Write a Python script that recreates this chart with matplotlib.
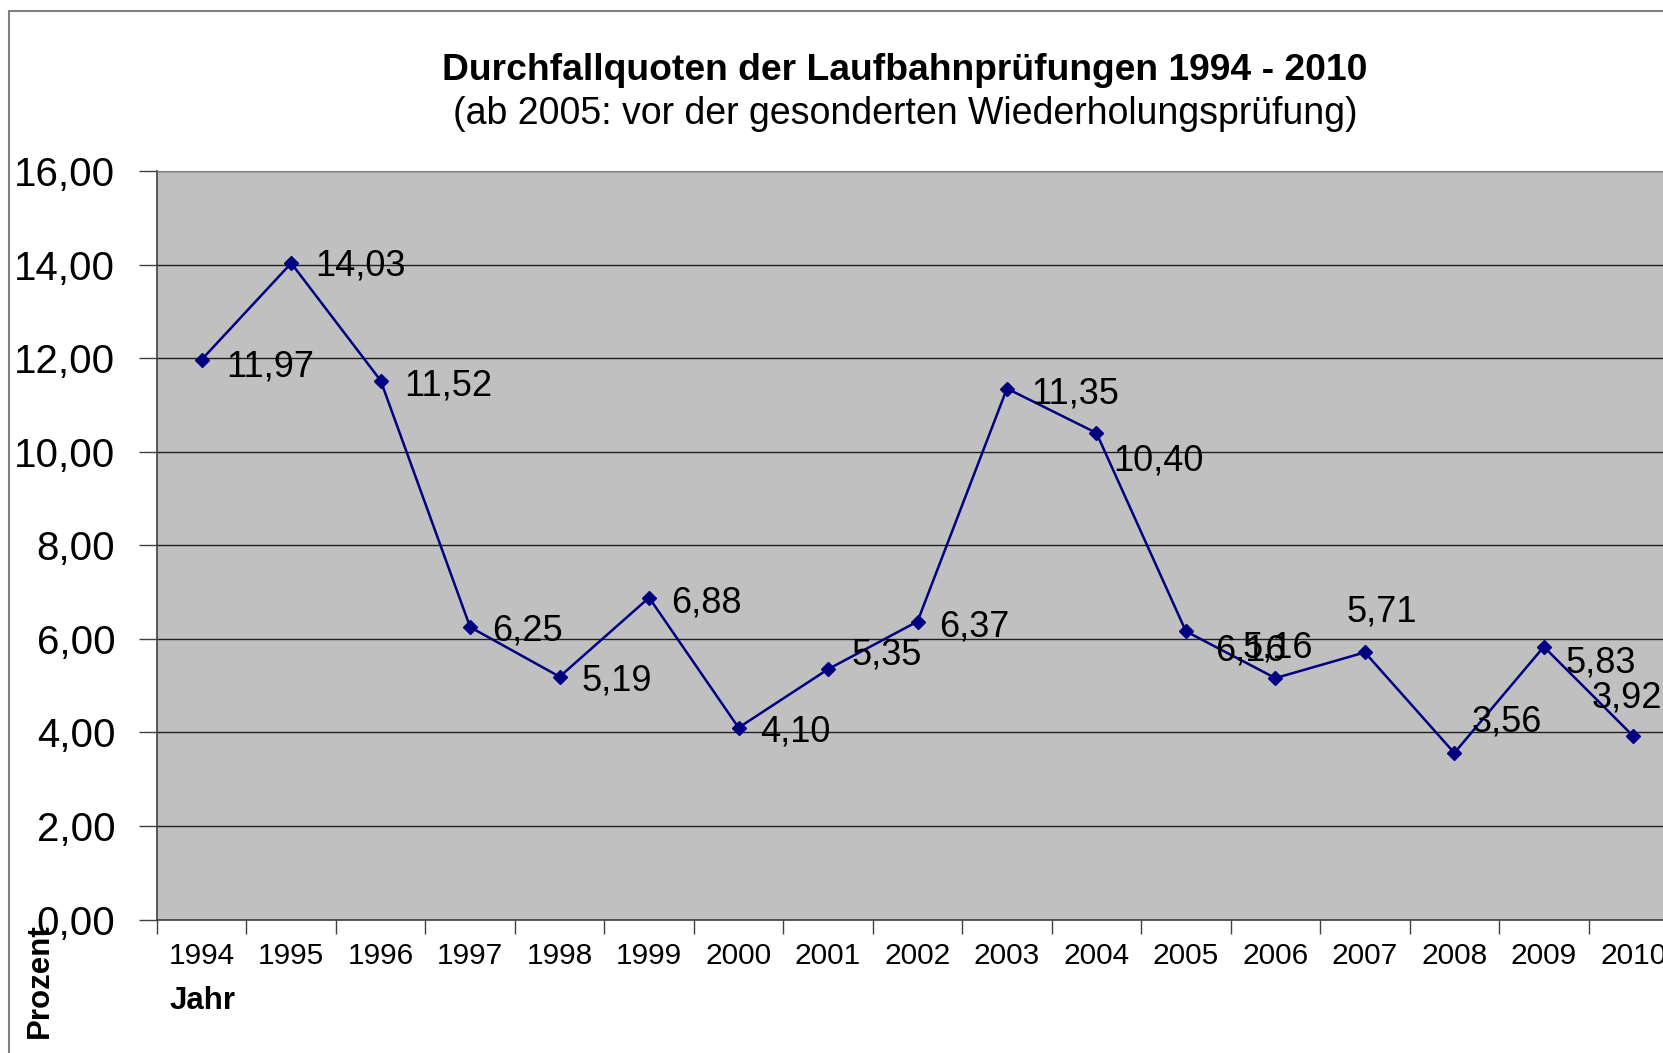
import matplotlib.pyplot as plt
from matplotlib.patches import Rectangle

plt.rcParams['font.family'] = ['Liberation Sans', 'DejaVu Sans']

years = ['1994', '1995', '1996', '1997', '1998', '1999', '2000', '2001', '2002',
         '2003', '2004', '2005', '2006', '2007', '2008', '2009', '2010']
quoten = [11.97, 14.03, 11.52, 6.25, 5.19, 6.88, 4.10, 5.35, 6.37,
          11.35, 10.40, 6.16, 5.16, 5.71, 3.56, 5.83, 3.92]

# label offsets in pixels (hand placed like in the original sheet)
label_dx = [25, 24, 24, 22, 22, 22, 22, 23, 22, 24, 17, 29, -33, -18, 17, 22, -42]
label_dy = [-7, -3, -5, -4, -4, -5, -4, 14, -5, -5, -28, -20, 30, 40, 31, -16, 38]

W, H = 1663, 1053
fig = plt.figure(figsize=(W / 100, H / 100), dpi=100)

# outer chart frame
fig.patches.append(Rectangle((8.5 / W, -0.1), 1.2, (H - 10.5) / H + 0.1,
                             transform=fig.transFigure, fill=False,
                             edgecolor='#808080', linewidth=1.5))

ax = fig.add_axes([157 / W, 1 - 919.5 / H, (1678 - 157) / W, (919.5 - 171) / H])
ax.set_facecolor('#c0c0c0')

x = list(range(len(years)))
ax.plot(x, quoten, color='#000080', linewidth=1.8, marker='D', markersize=7)

for i, v in enumerate(quoten):
    ax.annotate(f"{v:.2f}".replace('.', ','), (x[i], v),
                xytext=(label_dx[i], label_dy[i]), textcoords='offset pixels',
                ha='left', va='center', fontsize=26, color='black')

ax.set_ylim(0, 16)
ax.set_xlim(-0.5, len(years) - 0.5)
ax.set_yticks(range(0, 17, 2))
ax.set_yticklabels([f"{v:.2f}".replace('.', ',') for v in range(0, 17, 2)], fontsize=29)
ax.yaxis.grid(True, color='#202020', linewidth=1)
ax.set_axisbelow(True)

ax.set_xticks([i - 0.5 for i in range(len(years) + 1)])
ax.set_xticklabels([])
ax.set_xticks(x, minor=True)
ax.set_xticklabels(years, minor=True, fontsize=21.5)
ax.tick_params(axis='x', which='major', length=10, width=1, color='#404040', direction='out')
ax.tick_params(axis='x', which='minor', length=0, pad=16)
ax.tick_params(axis='y', length=13, width=1, color='#404040', pad=17)

for s in ['left', 'bottom']:
    ax.spines[s].set_color('#404040')
    ax.spines[s].set_linewidth(1.2)
ax.spines['top'].set_color('#808080')
ax.spines['right'].set_visible(False)

fig.text(905 / W, 1 - 70 / H, 'Durchfallquoten der Laufbahnprüfungen 1994 - 2010',
         ha='center', va='center', fontsize=26.8, fontweight='bold')
fig.text(905 / W, 1 - 114 / H, '(ab 2005: vor der gesonderten Wiederholungsprüfung)',
         ha='center', va='center', fontsize=27)
fig.text(170 / W, 1 - 1001 / H, 'Jahr', ha='left', va='center', fontsize=22.5, fontweight='bold')
fig.text(40 / W, 1 - 981 / H, 'Prozent', ha='center', va='center', rotation=90,
         fontsize=22.5, fontweight='bold')

fig.savefig('out.png', dpi=100)
